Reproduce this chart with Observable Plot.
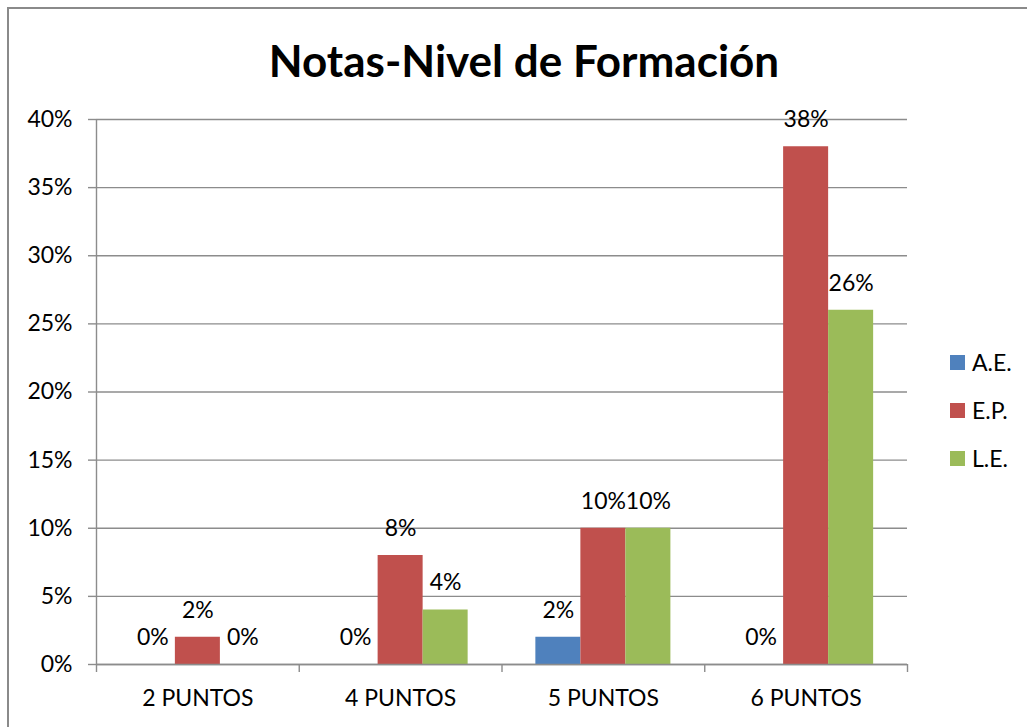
<!DOCTYPE html>
<html>
<head>
<meta charset="utf-8">
<script src="https://cdn.jsdelivr.net/npm/d3@7"></script>
<script src="https://cdn.jsdelivr.net/npm/@observablehq/plot@0.6"></script>
<style>
  html, body { margin: 0; padding: 0; background: #fff; }
  #wrap { position: relative; width: 1027px; height: 727px; overflow: hidden; font-family: Lato, "Open Sans", sans-serif; }
  #border { position: absolute; left: 7px; top: 7px; width: 1100px; height: 800px; border-left: 2px solid #8a8a8a; border-top: 2px solid #8a8a8a; }
  #title { position: absolute; left: 0; width: 1048px; top: 28px; text-align: center; font-size: 44px; font-weight: bold; color: #000; line-height: 64px; }
  #chart { position: absolute; left: 0; top: 0; }
  #legend { position: absolute; left: 950px; top: 338px; }
  .item { display: flex; align-items: center; height: 48px; font-size: 23px; color: #000; }
  .sw { width: 15px; height: 15px; margin-right: 7px; }
</style>
</head>
<body>
<div id="wrap">
  <div id="border"></div>
  <div id="title">Notas-Nivel de Formación</div>
  <div id="chart"></div>
  <div id="legend"></div>
</div>
<script>
const categories = ["2 PUNTOS", "4 PUNTOS", "5 PUNTOS", "6 PUNTOS"];
const series = ["A.E.", "E.P.", "L.E."];
const colors = ["#4F81BD", "#C0504D", "#9BBB59"];
const valuesAE = [0.00, 0.00, 0.02, 0.00];
const valuesEP = [0.02, 0.08, 0.10, 0.38];
const valuesLE = [0.00, 0.04, 0.10, 0.26];
const yTicks = [0, 0.05, 0.10, 0.15, 0.20, 0.25, 0.30, 0.35, 0.40];

const seriesValues = [valuesAE, valuesEP, valuesLE];
const data = [];
categories.forEach((c, i) => {
  series.forEach((s, j) => {
    data.push({category: c, i, series: s, j, value: seriesValues[j][i]});
  });
});

// bar layout within each category band (fraction of band)
const barW = 0.222;
const groupOff = (1 - 3 * barW) / 2;
const x1 = d => d.i + groupOff + d.j * barW;
const x2 = d => d.i + groupOff + (d.j + 1) * barW;
const xc = d => d.i + groupOff + (d.j + 0.5) * barW;

const grid = "#8c8c8c";
const pct = d3.format(".0%");
const fs = 23;

const plot = Plot.plot({
  width: 1027,
  height: 727,
  marginTop: 119,
  marginBottom: 63,
  marginLeft: 96,
  marginRight: 120,
  style: {fontFamily: "Lato, 'Open Sans', sans-serif", fontSize: fs + "px", color: "#000", background: "transparent"},
  x: {type: "linear", domain: [0, categories.length], axis: null},
  y: {domain: [0, 0.4], axis: null},
  color: {domain: series, range: colors},
  marks: [
    Plot.ruleY(yTicks, {stroke: grid, strokeWidth: 1.4}),
    Plot.rectY(data, {x1, x2, y1: 0, y2: "value", fill: "series"}),
    Plot.ruleX([0], {stroke: grid, strokeWidth: 1.4}),
    Plot.ruleY([0], {stroke: grid, strokeWidth: 1.4}),
    Plot.axisY({ticks: yTicks, tickFormat: pct, tickSize: 8, tickPadding: 16, stroke: grid, strokeWidth: 1.4, fontSize: fs, fill: "#000", label: null}),
    Plot.axisX({ticks: d3.range(categories.length + 1), tickFormat: () => "", tickSize: 8, stroke: grid, strokeWidth: 1.4, label: null}),
    Plot.axisX({ticks: categories.map((c, i) => i + 0.5), tickFormat: v => categories[Math.floor(v)], tickSize: 0, tickPadding: 25, fontSize: fs, fill: "#000", label: null}),
    Plot.text(data, {x: xc, y: "value", text: d => pct(d.value), dy: -27, fontSize: fs, fill: "#000", lineAnchor: "middle"})
  ]
});
document.getElementById("chart").appendChild(plot);

const legend = document.getElementById("legend");
series.forEach((s, j) => {
  const item = document.createElement("div");
  item.className = "item";
  const sw = document.createElement("div");
  sw.className = "sw";
  sw.style.background = colors[j];
  item.appendChild(sw);
  item.appendChild(document.createTextNode(s));
  legend.appendChild(item);
});
</script>
</body>
</html>
